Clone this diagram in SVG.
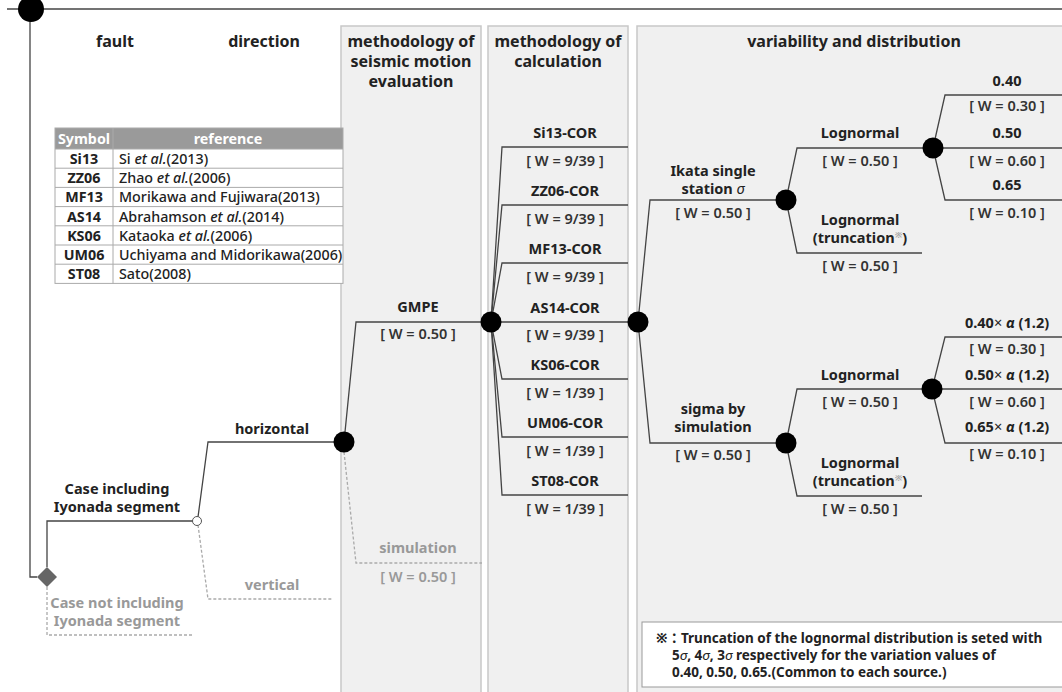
<svg xmlns="http://www.w3.org/2000/svg" width="1062" height="692" viewBox="0 0 1062 692">
  <defs>
    <style>
      text { font-family: "Noto Sans", "Noto Sans CJK JP", sans-serif; fill: #222; }
      .hd { font-size: 16px; font-weight: bold; text-anchor: middle; }
      .lb { font-size: 14.5px; font-weight: bold; text-anchor: middle; }
      .w { font-size: 14.5px; font-weight: 600; text-anchor: middle; fill: #333; }
      .gr { fill: #999; }
      .tb { font-size: 14.3px; font-weight: 500; }
      .tbs { font-size: 14.3px; font-weight: bold; text-anchor: middle; }
      .note { font-size: 13.5px; font-weight: bold; }
      .panel { fill: #f0f0f0; stroke: #c8c8c8; stroke-width: 1.5; }
      .ln { fill: none; stroke: #444; stroke-width: 1.3; }
      .dash { fill: none; stroke: #aaa; stroke-width: 1.3; stroke-dasharray: 3 2; }
      .node { fill: #000; }
      .sup { font-size: 9px; fill: #aaa; }
    </style>
  </defs>
  <rect width="1062" height="692" fill="#fff"/>

  <!-- column panels -->
  <g id="panels">
    <rect class="panel" x="341" y="26" width="140" height="680"/>
    <rect class="panel" x="488" y="26" width="140" height="680"/>
    <rect class="panel" x="637" y="26" width="440" height="680"/>
  </g>

  <!-- column headings -->
  <g id="headings">
    <text class="hd" x="115" y="47">fault</text>
    <text class="hd" x="264" y="47">direction</text>
    <text class="hd" x="411" y="47">methodology of</text>
    <text class="hd" x="411" y="67">seismic motion</text>
    <text class="hd" x="411" y="87">evaluation</text>
    <text class="hd" x="558" y="47">methodology of</text>
    <text class="hd" x="558" y="67">calculation</text>
    <text class="hd" x="854" y="47">variability and distribution</text>
  </g>

  <!-- reference table -->
  <g id="table">
    <rect x="55" y="128" width="288" height="21" fill="#9a9a9a"/>
    <rect x="55" y="149" width="288" height="134.4" fill="#fff"/>
    <g stroke="#aaa" stroke-width="1" fill="none">
      <rect x="55" y="128" width="288" height="155.4"/>
      <line x1="113" y1="128" x2="113" y2="283.4"/>
      <line x1="55" y1="149" x2="343" y2="149"/>
      <line x1="55" y1="168.2" x2="343" y2="168.2"/>
      <line x1="55" y1="187.4" x2="343" y2="187.4"/>
      <line x1="55" y1="206.6" x2="343" y2="206.6"/>
      <line x1="55" y1="225.8" x2="343" y2="225.8"/>
      <line x1="55" y1="245" x2="343" y2="245"/>
      <line x1="55" y1="264.2" x2="343" y2="264.2"/>
    </g>
    <text class="tbs" x="84" y="144" style="fill:#fff">Symbol</text>
    <text class="tbs" x="228" y="144" style="fill:#fff">reference</text>
    <text class="tbs" x="84" y="164">Si13</text>
    <text class="tbs" x="84" y="183">ZZ06</text>
    <text class="tbs" x="84" y="202">MF13</text>
    <text class="tbs" x="84" y="222">AS14</text>
    <text class="tbs" x="84" y="241">KS06</text>
    <text class="tbs" x="84" y="260">UM06</text>
    <text class="tbs" x="84" y="279">ST08</text>
    <text class="tb" x="119" y="164">Si <tspan font-style="italic">et al.</tspan>(2013)</text>
    <text class="tb" x="119" y="183">Zhao <tspan font-style="italic">et al.</tspan>(2006)</text>
    <text class="tb" x="119" y="202">Morikawa and Fujiwara(2013)</text>
    <text class="tb" x="119" y="222">Abrahamson <tspan font-style="italic">et al.</tspan>(2014)</text>
    <text class="tb" x="119" y="241">Kataoka <tspan font-style="italic">et al.</tspan>(2006)</text>
    <text class="tb" x="119" y="260">Uchiyama and Midorikawa(2006)</text>
    <text class="tb" x="119" y="279">Sato(2008)</text>
  </g>

  <!-- connectors -->
  <g id="connectors">
    <path class="ln" d="M7,9 H1062" stroke-width="1.6"/>
    <path class="ln" d="M30,9 V577 H37"/>
    <path class="ln" d="M47,567 V521 H193"/>
    <path class="ln" d="M198,517 L208,442 H340"/>
    <path class="dash" d="M198,525 L208,599 H333"/>
    <path class="dash" d="M47,587 V635 H193"/>
    <path class="ln" d="M344,442 L356,322 H484"/>
    <path class="dash" d="M344,452 L356,563 H482"/>
    <path class="ln" d="M491,322 L502,147 H628"/>
    <path class="ln" d="M491,322 L502,205 H628"/>
    <path class="ln" d="M491,322 L502,263 H628"/>
    <path class="ln" d="M491,322 H632"/>
    <path class="ln" d="M491,322 L502,379 H628"/>
    <path class="ln" d="M491,322 L502,437 H628"/>
    <path class="ln" d="M491,322 L502,495 H628"/>
    <path class="ln" d="M638,322 L650,200 H780"/>
    <path class="ln" d="M638,322 L650,443 H780"/>
    <path class="ln" d="M786,200 L797,148 H928"/>
    <path class="ln" d="M786,200 L797,253 H922"/>
    <path class="ln" d="M933,148 L945,95 H1062"/>
    <path class="ln" d="M933,148 H1062"/>
    <path class="ln" d="M933,148 L945,200 H1062"/>
    <path class="ln" d="M786,443 L797,389 H928"/>
    <path class="ln" d="M786,443 L797,496 H922"/>
    <path class="ln" d="M932,389 L945,337 H1062"/>
    <path class="ln" d="M932,389 H1062"/>
    <path class="ln" d="M932,389 L945,443 H1062"/>
  </g>

  <!-- fault -->
  <g id="n-fault">
    <circle class="node" cx="31" cy="9" r="13"/>
  </g>
  <g id="n-case">
    <path d="M47,567 L57,577 L47,587 L37,577 Z" fill="#666"/>
  </g>
  <g id="n-including">
    <text class="lb" x="117" y="494">Case including</text>
    <text class="lb" x="117" y="512">Iyonada segment</text>
    <circle cx="197" cy="521" r="4.5" fill="#fff" stroke="#555" stroke-width="1"/>
  </g>
  <g id="n-not-including">
    <text class="lb gr" x="117" y="608">Case not including</text>
    <text class="lb gr" x="117" y="626">Iyonada segment</text>
  </g>

  <!-- direction -->
  <g id="n-horizontal">
    <text class="lb" x="272" y="434">horizontal</text>
    <circle class="node" cx="344" cy="442" r="10.5"/>
  </g>
  <g id="n-vertical">
    <text class="lb gr" x="272" y="590">vertical</text>
  </g>

  <!-- seismic motion evaluation -->
  <g id="n-gmpe">
    <text class="lb" x="418" y="312">GMPE</text>
    <text class="w" x="418" y="339">[ W = 0.50 ]</text>
    <circle class="node" cx="491" cy="322" r="10.5"/>
  </g>
  <g id="n-simulation">
    <text class="lb gr" x="418" y="553">simulation</text>
    <text class="w gr" x="418" y="582">[ W = 0.50 ]</text>
  </g>

  <!-- calculation -->
  <g id="n-si13">
    <text class="lb" x="565" y="138">Si13-COR</text>
    <text class="w" x="565" y="166">[ W = 9/39 ]</text>
  </g>
  <g id="n-zz06">
    <text class="lb" x="565" y="196">ZZ06-COR</text>
    <text class="w" x="565" y="224">[ W = 9/39 ]</text>
  </g>
  <g id="n-mf13">
    <text class="lb" x="565" y="254">MF13-COR</text>
    <text class="w" x="565" y="282">[ W = 9/39 ]</text>
  </g>
  <g id="n-as14">
    <text class="lb" x="565" y="313">AS14-COR</text>
    <text class="w" x="565" y="340">[ W = 9/39 ]</text>
    <circle class="node" cx="638" cy="322" r="10.5"/>
  </g>
  <g id="n-ks06">
    <text class="lb" x="565" y="370">KS06-COR</text>
    <text class="w" x="565" y="398">[ W = 1/39 ]</text>
  </g>
  <g id="n-um06">
    <text class="lb" x="565" y="428">UM06-COR</text>
    <text class="w" x="565" y="456">[ W = 1/39 ]</text>
  </g>
  <g id="n-st08">
    <text class="lb" x="565" y="486">ST08-COR</text>
    <text class="w" x="565" y="514">[ W = 1/39 ]</text>
  </g>

  <!-- variability -->
  <g id="n-ikata">
    <text class="lb" x="713" y="176">Ikata single</text>
    <text class="lb" x="713" y="194">station <tspan font-style="italic" font-weight="normal">σ</tspan></text>
    <text class="w" x="713" y="218">[ W = 0.50 ]</text>
    <circle class="node" cx="786" cy="200" r="10.5"/>
  </g>
  <g id="n-sigma-sim">
    <text class="lb" x="713" y="414">sigma by</text>
    <text class="lb" x="713" y="432">simulation</text>
    <text class="w" x="713" y="460">[ W = 0.50 ]</text>
    <circle class="node" cx="786" cy="443" r="10.5"/>
  </g>

  <!-- distribution -->
  <g id="n-logn-1">
    <text class="lb" x="860" y="138">Lognormal</text>
    <text class="w" x="860" y="166">[ W = 0.50 ]</text>
    <circle class="node" cx="933" cy="148" r="10.5"/>
  </g>
  <g id="n-logtr-1">
    <text class="lb" x="860" y="225">Lognormal</text>
    <text class="lb" x="860" y="243">(truncation<tspan class="sup" dy="-5">※</tspan><tspan dy="5">)</tspan></text>
    <text class="w" x="860" y="271">[ W = 0.50 ]</text>
  </g>
  <g id="n-logn-2">
    <text class="lb" x="860" y="380">Lognormal</text>
    <text class="w" x="860" y="407">[ W = 0.50 ]</text>
    <circle class="node" cx="932" cy="389" r="10.5"/>
  </g>
  <g id="n-logtr-2">
    <text class="lb" x="860" y="468">Lognormal</text>
    <text class="lb" x="860" y="486">(truncation<tspan class="sup" dy="-5">※</tspan><tspan dy="5">)</tspan></text>
    <text class="w" x="860" y="514">[ W = 0.50 ]</text>
  </g>

  <!-- variation values -->
  <g id="n-v040">
    <text class="lb" x="1007" y="86">0.40</text>
    <text class="w" x="1007" y="111">[ W = 0.30 ]</text>
  </g>
  <g id="n-v050">
    <text class="lb" x="1007" y="138">0.50</text>
    <text class="w" x="1007" y="166">[ W = 0.60 ]</text>
  </g>
  <g id="n-v065">
    <text class="lb" x="1007" y="190">0.65</text>
    <text class="w" x="1007" y="218">[ W = 0.10 ]</text>
  </g>
  <g id="n-a040">
    <text class="lb" x="1007" y="328">0.40<tspan font-weight="normal">×</tspan> <tspan font-style="italic">α</tspan> (1.2)</text>
    <text class="w" x="1007" y="354">[ W = 0.30 ]</text>
  </g>
  <g id="n-a050">
    <text class="lb" x="1007" y="380">0.50<tspan font-weight="normal">×</tspan> <tspan font-style="italic">α</tspan> (1.2)</text>
    <text class="w" x="1007" y="407">[ W = 0.60 ]</text>
  </g>
  <g id="n-a065">
    <text class="lb" x="1007" y="432">0.65<tspan font-weight="normal">×</tspan> <tspan font-style="italic">α</tspan> (1.2)</text>
    <text class="w" x="1007" y="459">[ W = 0.10 ]</text>
  </g>

  <!-- footnote -->
  <g id="n-note">
    <rect x="642" y="622" width="430" height="65" fill="#fff" stroke="#999" stroke-width="1"/>
    <text class="note" x="656" y="643">※：Truncation of the lognormal distribution is seted with</text>
    <text class="note" x="672" y="660">5<tspan font-style="italic" font-weight="normal">σ</tspan>, 4<tspan font-style="italic" font-weight="normal">σ</tspan>, 3<tspan font-style="italic" font-weight="normal">σ</tspan> respectively for the variation values of</text>
    <text class="note" x="672" y="677">0.40, 0.50, 0.65.(Common to each source.)</text>
  </g>
</svg>
